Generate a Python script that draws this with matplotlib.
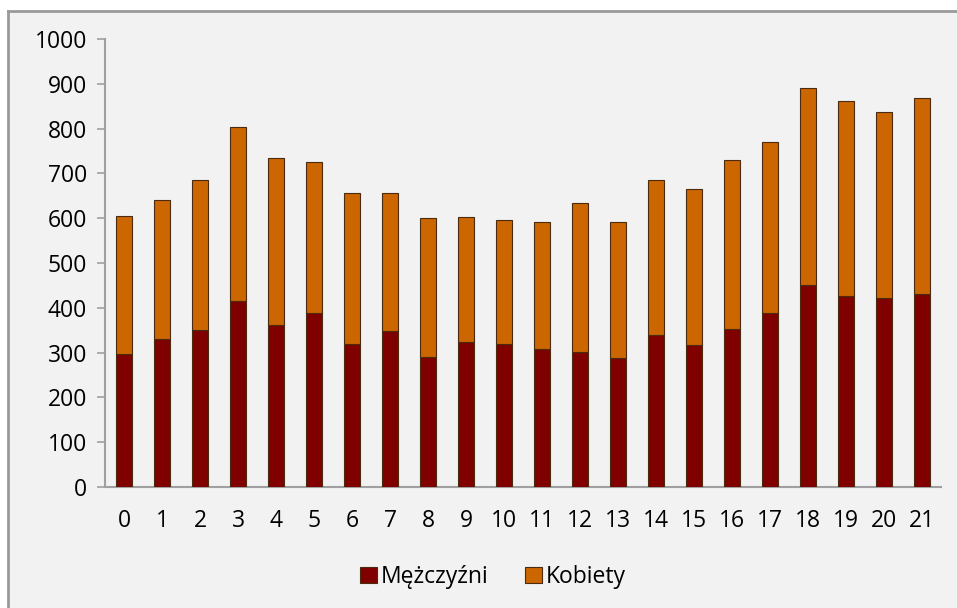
import numpy as np
import matplotlib.pyplot as plt
from matplotlib.lines import Line2D

# Dane
kategorie = [str(i) for i in range(22)]
razem = [606, 640, 685, 803, 734, 725, 656, 656, 600, 603, 596, 591,
         634, 591, 685, 665, 731, 770, 890, 862, 836, 868]
mezczyzni = [297, 330, 350, 416, 362, 388, 319, 348, 290, 324, 319, 308,
             301, 287, 339, 317, 353, 388, 451, 426, 422, 430]
kobiety = [r - m for r, m in zip(razem, mezczyzni)]

plt.rcParams['font.family'] = ['Open Sans', 'DejaVu Sans']

tlo = '#f2f2f2'
fig = plt.figure(figsize=(9.57, 6.08), dpi=100, facecolor='white')
# ramka wykresu (tylko gora i lewa krawedz widoczne)
fig.patches.append(plt.Rectangle((8/957, 0), 1, 1 - 11/608, transform=fig.transFigure,
                                 facecolor=tlo, edgecolor='none', zorder=-2))
fig.lines.append(Line2D([8/957, 1], [1 - 11/608, 1 - 11/608], transform=fig.transFigure,
                        color='#9a9a9a', lw=2, zorder=-1))
fig.lines.append(Line2D([8/957, 8/957], [0, 1 - 11/608], transform=fig.transFigure,
                        color='#9a9a9a', lw=2, zorder=-1))

ax = fig.add_axes([105/957, 1 - 487/608, 836/957, 448/608])
ax.set_facecolor(tlo)

x = np.arange(len(kategorie))
ax.bar(x, mezczyzni, width=0.41, color='#800000', edgecolor='#4a2a10', linewidth=0.8,
       label='Mężczyźni', zorder=3)
ax.bar(x, kobiety, width=0.41, bottom=mezczyzni, color='#cc6600', edgecolor='#4a2a10',
       linewidth=0.8, label='Kobiety', zorder=3)

ax.set_xlim(-0.5, 21.5)
ax.set_ylim(0, 1000)
ax.set_yticks(np.arange(0, 1001, 100))
ax.set_xticks(x)
ax.set_xticklabels(kategorie)

for s in ['top', 'right']:
    ax.spines[s].set_visible(False)
for s in ['left', 'bottom']:
    ax.spines[s].set_color('#a0a0a0')
    ax.spines[s].set_linewidth(1.5)

ax.tick_params(axis='y', length=6, width=1.2, color='#a0a0a0', labelsize=16.5, pad=7)
ax.tick_params(axis='x', length=0, labelsize=16.5, pad=16)

ax.legend(loc='center', bbox_to_anchor=(493/957, 1 - 577/608), bbox_transform=fig.transFigure,
          ncol=2, frameon=False, fontsize=16.5, handlelength=0.75, handleheight=0.75,
          handletextpad=0.15, columnspacing=1.6)

fig.savefig('out.png', dpi=100, facecolor='white')
